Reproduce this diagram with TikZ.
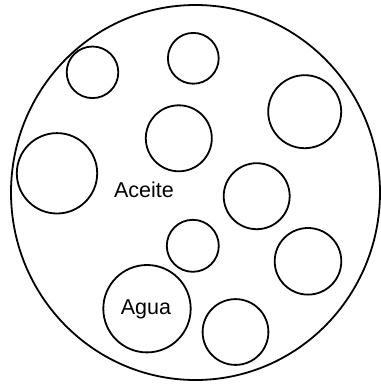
\documentclass[tikz,border=0pt]{standalone}
\usepackage{fontspec}
\setmainfont{Liberation Sans}
\begin{document}
\begin{tikzpicture}[x=1pt,y=-1pt,
  drop/.style={draw=black,line width=1.8pt},
  lbl/.style={font=\fontsize{21.5}{24}\selectfont,inner sep=0pt}]
\useasboundingbox (0,0) rectangle (381,384);
\draw[drop] (195.5,192.5) ellipse [x radius=184.5, y radius=187.5];
\draw[drop] (92.5,72.3) circle (25.8);
\draw[drop] (193.3,58.3) circle (25.4);
\draw[drop] (304.7,111.7) circle (36.5);
\draw[drop] (178.8,138.3) circle (33);
\draw[drop] (57,173.3) circle (40.2);
\draw[drop] (256.7,196.2) circle (33);
\draw[drop] (192.8,245.8) circle (26);
\draw[drop] (308,261.3) circle (33.3);
\draw[drop] (147,308.7) circle (43.7);
\draw[drop] (235.5,332) circle (32.9);
\node[lbl] (aceite) at (144,189.5) {Aceite};
\node[lbl] (agua) at (146,309) {Agua};
\end{tikzpicture}
\end{document}
